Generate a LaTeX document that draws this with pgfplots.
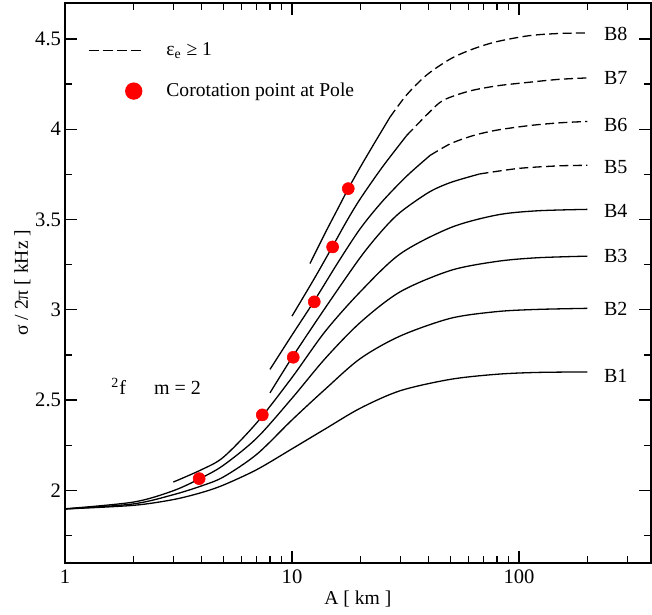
\documentclass[border=0pt]{standalone}
\usepackage{fontspec}
\setmainfont{Liberation Serif}
\usepackage{pgfplots}
\pgfplotsset{compat=1.18}
\tikzset{blab/.style={anchor=west, font=\fontsize{10}{11}\selectfont, inner sep=0pt}}

\begin{document}
\begin{tikzpicture}
\begin{axis}[
  scale only axis,
  width=293pt, height=280pt,
  xmode=log, log basis x=10,
  xmin=1, xmax=381,
  ymin=1.6, ymax=4.7,
  xtick={1,10,100}, xticklabels={1,10,100},
  minor xtick={2,3,4,5,6,7,8,9,20,30,40,50,60,70,80,90,200,300},
  ytick={2,2.5,3,3.5,4,4.5},
  minor ytick={1.75,2.25,2.75,3.25,3.75,4.25},
  xtick pos=both, ytick pos=both,
  tick align=inside,
  major tick length=6pt, minor tick length=3.5pt,
  axis line style={line width=0.9pt},
  every tick/.style={black, line width=0.6pt},
  tick label style={font=\fontsize{10.3}{11}\selectfont},
  yticklabel style={xshift=1.5pt},
  /pgf/number format/assume math mode=true,
  xlabel={A [ km ]},
  ylabel={σ / 2π [ kHz ]},
  xlabel shift=-3pt,
  ylabel shift=-4.5pt,
  label style={font=\fontsize{9.8}{11}\selectfont},
  clip=false,
  legend style={at={(axis description cs:0.0285,0.9434)}, anchor=north west,
    draw=none, fill=none, font=\fontsize{9.8}{12}\selectfont, row sep=8pt,
    /tikz/every odd column/.append style={column sep=10pt}},
  legend cell align=left,
  every axis plot/.append style={black, line width=0.65pt},
]
\path (axis description cs:-0.111,-0.091) rectangle (axis description cs:1.002,1.005);

\addlegendimage{legend image code/.code={\draw[black, line width=0.65pt, dash pattern=on 5pt off 2pt] (0pt,0pt) -- (26pt,0pt);}}
\addlegendentry{ε\textsubscript{e} ≥ 1}

% B1
\addplot[smooth, forget plot] coordinates {(1,1.897) (2,1.917) (3,1.949) (4,1.988) (5,2.03) (7,2.115) (10,2.23) (14,2.34) (20,2.455) (30,2.552) (50,2.615) (80,2.643) (120,2.653) (200,2.656)};
% B2
\addplot[smooth, forget plot] coordinates {(1,1.897) (2,1.925) (3,1.976) (4,2.025) (5,2.075) (7,2.20) (10,2.39) (14,2.56) (20,2.73) (30,2.855) (50,2.953) (80,2.99) (120,3.002) (200,3.008)};
% B3
\addplot[smooth, forget plot] coordinates {(1,1.898) (2,1.935) (3,1.998) (4,2.07) (5,2.14) (7,2.29) (10,2.51) (14,2.73) (20,2.93) (30,3.10) (50,3.218) (80,3.268) (120,3.288) (200,3.297)};
% B4
\addplot[smooth, forget plot] coordinates {(3,2.046) (4,2.115) (5,2.185) (7,2.375) (10,2.625) (14,2.88) (20,3.10) (30,3.31) (50,3.455) (80,3.525) (120,3.548) (200,3.556)};
% B5
\addplot[smooth, forget plot] coordinates {(8,2.54) (10,2.735) (14,3.01) (20,3.29) (25,3.44) (30,3.54) (40,3.65) (50,3.705) (67,3.752)};
\addplot[smooth, forget plot, dash pattern=on 4.5pt off 2.2pt] coordinates {(67,3.752) (100,3.783) (150,3.797) (200,3.80)};
% B6
\addplot[smooth, forget plot] coordinates {(8,2.67) (10,2.86) (12.5,3.047) (16,3.265) (20,3.45) (25,3.60) (32,3.74) (40.6,3.855)};
\addplot[smooth, forget plot, dash pattern=on 4.5pt off 2.2pt] coordinates {(40.6,3.855) (50,3.92) (63,3.965) (80,3.995) (111,4.02) (150,4.035) (200,4.043)};
% B7
\addplot[smooth, forget plot] coordinates {(10,2.965) (12.5,3.17) (15,3.345) (17.4,3.49) (20,3.615) (25,3.79) (32,3.965)};
\addplot[smooth, forget plot, dash pattern=on 4.5pt off 2.2pt] coordinates {(32,3.965) (40,4.09) (46.4,4.16) (60,4.21) (80,4.24) (111,4.26) (150,4.276) (200,4.284)};
% B8
\addplot[smooth, forget plot] coordinates {(12,3.256) (14,3.425) (16,3.565) (17.7,3.671) (20,3.79) (23,3.92) (27,4.066)};
\addplot[smooth, forget plot, dash pattern=on 4.5pt off 2.2pt] coordinates {(27,4.066) (32,4.19) (39.2,4.30) (50,4.39) (63,4.445) (80,4.485) (111,4.518) (150,4.53) (200,4.533)};

% corotation points
\addplot[only marks, mark=*, mark size=3pt, mark options={fill=red, draw=red, line width=0.3pt},
  legend image code/.code={\fill[red] (22.5pt,0pt) circle (4pt);}]
  coordinates {(3.9,2.065) (7.4,2.418) (10.13,2.737) (12.54,3.044) (15.1,3.348) (17.7,3.671)};
\addlegendentry{Corotation point at Pole}

\node[anchor=base west, font=\fontsize{10}{12}\selectfont] at (axis cs:1.49,2.529) {\textsuperscript{2}f\hspace{1.4em}m = 2};

\node[blab] at (axis cs:236,4.529) {B8};
\node[blab] at (axis cs:236,4.286) {B7};
\node[blab] at (axis cs:236,4.026) {B6};
\node[blab] at (axis cs:236,3.788) {B5};
\node[blab] at (axis cs:236,3.545) {B4};
\node[blab] at (axis cs:236,3.296) {B3};
\node[blab] at (axis cs:236,3.003) {B2};
\node[blab] at (axis cs:236,2.634) {B1};
\end{axis}
\end{tikzpicture}
\end{document}
